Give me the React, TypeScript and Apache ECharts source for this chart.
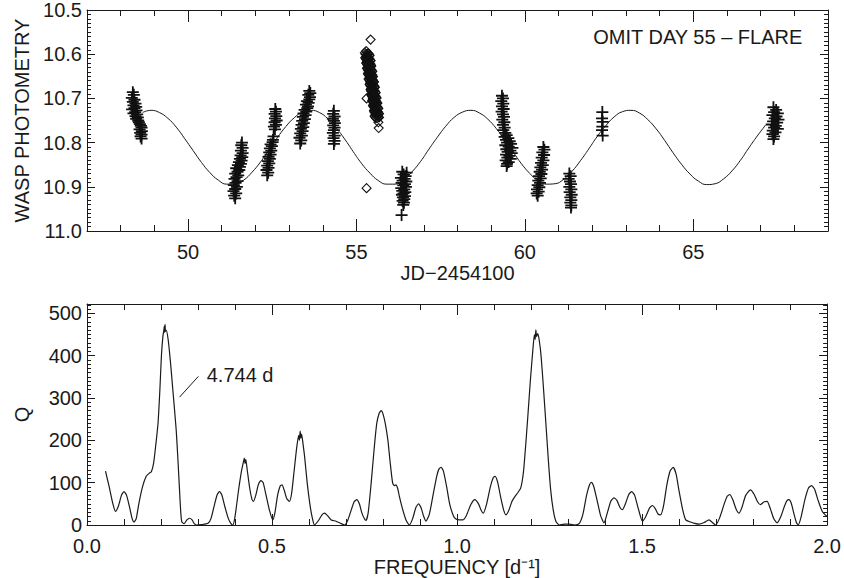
import { useEffect, useRef } from 'react';
import * as echarts from 'echarts';

// ---- Light curve: WASP photometry per night [JD-2454100, mag] ----
const night48: [number, number][] = [
  [48.36, 10.686], [48.39, 10.692], [48.33, 10.699], [48.41, 10.703], [48.36, 10.708], [48.44, 10.712],
  [48.38, 10.716], [48.46, 10.719], [48.41, 10.722], [48.34, 10.725], [48.47, 10.727], [48.43, 10.731],
  [48.38, 10.734], [48.49, 10.736], [48.44, 10.740], [48.51, 10.743], [48.46, 10.746], [48.52, 10.750],
  [48.54, 10.754], [48.57, 10.758], [48.60, 10.762], [48.62, 10.766], [48.56, 10.770], [48.63, 10.774],
  [48.58, 10.778], [48.62, 10.782], [48.59, 10.786], [48.62, 10.791],
];
const night51: [number, number][] = [
  [51.40, 10.926], [51.37, 10.920], [51.43, 10.915], [51.35, 10.910], [51.40, 10.905], [51.45, 10.900],
  [51.36, 10.896], [51.41, 10.891], [51.47, 10.887], [51.38, 10.882], [51.44, 10.878], [51.49, 10.874],
  [51.40, 10.870], [51.47, 10.866], [51.52, 10.862], [51.43, 10.858], [51.54, 10.855], [51.48, 10.851],
  [51.57, 10.848], [51.51, 10.844], [51.59, 10.841], [51.54, 10.837], [51.61, 10.833], [51.56, 10.829],
  [51.62, 10.824], [51.57, 10.818], [51.62, 10.812], [51.58, 10.806], [51.60, 10.800],
];
const night52: [number, number][] = [
  [52.35, 10.874], [52.38, 10.868], [52.33, 10.862], [52.39, 10.857], [52.35, 10.852], [52.41, 10.847],
  [52.37, 10.842], [52.43, 10.837], [52.39, 10.832], [52.45, 10.827], [52.41, 10.822], [52.47, 10.818],
  [52.43, 10.813], [52.49, 10.808], [52.45, 10.804], [52.51, 10.799], [52.52, 10.794], [52.54, 10.786],
  [52.58, 10.770], [52.55, 10.764], [52.61, 10.760], [52.57, 10.754], [52.63, 10.750], [52.58, 10.745],
  [52.62, 10.740], [52.57, 10.735], [52.61, 10.730], [52.59, 10.724],
];
const night53: [number, number][] = [
  [53.33, 10.802], [53.36, 10.795], [53.31, 10.789], [53.38, 10.784], [53.33, 10.779], [53.40, 10.774],
  [53.35, 10.769], [53.42, 10.765], [53.37, 10.760], [53.44, 10.756], [53.39, 10.751], [53.47, 10.747],
  [53.41, 10.742], [53.49, 10.738], [53.43, 10.734], [53.51, 10.730], [53.46, 10.726], [53.54, 10.722],
  [53.56, 10.718], [53.50, 10.714], [53.58, 10.710], [53.53, 10.706], [53.60, 10.702], [53.62, 10.697],
  [53.57, 10.692], [53.63, 10.688], [53.60, 10.683],
];
const night54: [number, number][] = [
  [54.33, 10.728], [54.31, 10.735], [54.35, 10.741], [54.30, 10.746], [54.33, 10.751], [54.36, 10.756],
  [54.31, 10.761], [54.35, 10.766], [54.33, 10.772], [54.30, 10.778], [54.35, 10.784], [54.32, 10.790],
  [54.35, 10.796], [54.33, 10.803],
];
const night56: [number, number][] = [
  [56.36, 10.866], [56.49, 10.868], [56.40, 10.872], [56.46, 10.876], [56.32, 10.880], [56.43, 10.882],
  [56.37, 10.886], [56.48, 10.888], [56.34, 10.891], [56.44, 10.894], [56.39, 10.897], [56.47, 10.900],
  [56.33, 10.903], [56.42, 10.906], [56.36, 10.909], [56.45, 10.912], [56.40, 10.915], [56.35, 10.918],
  [56.44, 10.921], [56.38, 10.924], [56.42, 10.928], [56.37, 10.932], [56.41, 10.936], [56.39, 10.941],
  [56.34, 10.964],
];
const night59: [number, number][] = [
  [59.32, 10.694], [59.35, 10.700], [59.30, 10.706], [59.36, 10.712], [59.32, 10.718], [59.37, 10.724],
  [59.31, 10.730], [59.35, 10.736], [59.38, 10.742], [59.33, 10.748], [59.39, 10.754], [59.35, 10.760],
  [59.40, 10.766], [59.36, 10.772], [59.42, 10.778], [59.46, 10.783], [59.40, 10.787], [59.51, 10.790],
  [59.44, 10.794], [59.55, 10.797], [59.47, 10.800], [59.59, 10.803], [59.42, 10.806], [59.52, 10.809],
  [59.63, 10.812], [59.45, 10.815], [59.57, 10.818], [59.49, 10.821], [59.61, 10.824], [59.44, 10.827],
  [59.54, 10.830], [59.48, 10.834], [59.58, 10.837], [59.43, 10.840], [59.52, 10.844], [59.47, 10.848],
  [59.46, 10.853],
];
const night60: [number, number][] = [
  [60.55, 10.810], [60.58, 10.816], [60.52, 10.822], [60.57, 10.828], [60.50, 10.834], [60.55, 10.840],
  [60.48, 10.846], [60.53, 10.851], [60.46, 10.856], [60.51, 10.861], [60.44, 10.866], [60.49, 10.871],
  [60.42, 10.876], [60.47, 10.881], [60.40, 10.886], [60.45, 10.891], [60.38, 10.896], [60.43, 10.901],
  [60.36, 10.906], [60.41, 10.911], [60.35, 10.915], [60.38, 10.920],
];
const night61: [number, number][] = [
  [61.32, 10.870], [61.36, 10.876], [61.30, 10.882], [61.34, 10.888], [61.37, 10.894], [61.32, 10.900],
  [61.38, 10.906], [61.33, 10.912], [61.39, 10.918], [61.35, 10.924], [61.38, 10.930], [61.35, 10.936],
  [61.38, 10.942], [61.37, 10.947],
];
const night62: [number, number][] = [
  [62.30, 10.731], [62.29, 10.745], [62.31, 10.753], [62.30, 10.764], [62.29, 10.772], [62.31, 10.784],
];
const night67: [number, number][] = [
  [67.38, 10.720], [67.46, 10.726], [67.40, 10.731], [67.51, 10.734], [67.35, 10.738], [67.47, 10.741],
  [67.42, 10.745], [67.53, 10.748], [67.37, 10.752], [67.49, 10.755], [67.33, 10.759], [67.45, 10.762],
  [67.40, 10.766], [67.51, 10.769], [67.36, 10.773], [67.44, 10.777], [67.35, 10.781], [67.40, 10.786],
  [67.38, 10.792],
];
// Night 55 (flare, omitted from the fit) drawn as open diamonds
const night55Flare: [number, number][] = [
  [55.42, 10.567], [55.29, 10.593],
  [55.25, 10.597], [55.36, 10.599], [55.31, 10.601], [55.39, 10.603], [55.29, 10.605], [55.35, 10.607],
  [55.28, 10.609], [55.39, 10.611], [55.33, 10.613], [55.42, 10.615], [55.31, 10.617], [55.38, 10.619],
  [55.30, 10.621], [55.42, 10.623], [55.36, 10.625], [55.44, 10.627], [55.34, 10.629], [55.40, 10.631],
  [55.33, 10.633], [55.44, 10.635], [55.38, 10.637], [55.47, 10.639], [55.36, 10.641], [55.43, 10.643],
  [55.35, 10.645], [55.47, 10.647], [55.41, 10.649], [55.49, 10.651], [55.39, 10.653], [55.45, 10.655],
  [55.38, 10.657], [55.49, 10.659], [55.44, 10.661], [55.52, 10.663], [55.41, 10.665], [55.48, 10.667],
  [55.40, 10.669], [55.52, 10.671], [55.46, 10.673], [55.55, 10.675], [55.44, 10.677], [55.50, 10.679],
  [55.43, 10.681], [55.54, 10.683], [55.49, 10.685], [55.57, 10.687], [55.46, 10.689], [55.53, 10.691],
  [55.45, 10.693], [55.57, 10.695], [55.51, 10.697], [55.60, 10.699], [55.49, 10.701], [55.55, 10.703],
  [55.48, 10.705], [55.59, 10.707], [55.54, 10.709], [55.62, 10.711], [55.51, 10.713], [55.58, 10.715],
  [55.50, 10.717], [55.62, 10.719], [55.56, 10.721], [55.65, 10.723], [55.54, 10.725], [55.60, 10.727],
  [55.53, 10.729], [55.64, 10.731], [55.59, 10.733], [55.67, 10.735], [55.57, 10.737], [55.63, 10.739],
  [55.55, 10.741], [55.67, 10.743], [55.61, 10.745],
  [55.34, 10.598], [55.27, 10.600], [55.38, 10.602], [55.31, 10.604], [55.34, 10.606], [55.26, 10.608],
  [55.37, 10.610], [55.29, 10.612], [55.41, 10.614], [55.33, 10.616], [55.36, 10.618], [55.29, 10.620],
  [55.39, 10.622], [55.32, 10.624], [55.43, 10.626], [55.36, 10.628], [55.39, 10.630], [55.31, 10.632],
  [55.42, 10.634], [55.34, 10.636], [55.46, 10.638], [55.38, 10.640], [55.42, 10.642], [55.34, 10.644],
  [55.44, 10.646], [55.37, 10.648], [55.48, 10.650], [55.41, 10.652], [55.44, 10.654], [55.36, 10.656],
  [55.47, 10.658], [55.39, 10.660], [55.51, 10.662], [55.43, 10.664], [55.47, 10.666], [55.39, 10.668],
  [55.49, 10.670], [55.42, 10.672], [55.53, 10.674], [55.46, 10.676], [55.49, 10.678], [55.42, 10.680],
  [55.52, 10.682], [55.44, 10.684], [55.56, 10.686], [55.48, 10.688], [55.52, 10.690], [55.44, 10.692],
  [55.54, 10.694], [55.47, 10.696], [55.58, 10.698], [55.51, 10.700], [55.54, 10.702], [55.47, 10.704],
  [55.57, 10.706], [55.49, 10.708], [55.61, 10.710], [55.53, 10.712], [55.57, 10.714], [55.49, 10.716],
  [55.59, 10.718], [55.52, 10.720], [55.63, 10.722], [55.56, 10.724], [55.59, 10.726], [55.52, 10.728],
  [55.62, 10.730], [55.54, 10.732], [55.66, 10.734], [55.58, 10.736], [55.62, 10.738], [55.54, 10.740],
  [55.65, 10.742], [55.57, 10.744],
  [55.30, 10.700], [55.65, 10.754], [55.66, 10.767], [55.30, 10.903],
];

// Fitted P = 4.744 d model curve
const modelJd = [
  48.65, 48.90, 49.15, 49.40, 49.65, 49.90, 50.15, 50.40, 50.65, 50.90, 51.15, 51.40, 51.65, 51.90, 52.15,
  52.40, 52.65, 52.90, 53.15, 53.40, 53.65, 53.90, 54.15, 54.40, 54.65, 54.90, 55.15, 55.40, 55.65, 55.90,
  56.15, 56.40, 56.65, 56.90, 57.15, 57.40, 57.65, 57.90, 58.15, 58.40, 58.65, 58.90, 59.15, 59.40, 59.65,
  59.90, 60.15, 60.40, 60.65, 60.90, 61.15, 61.40, 61.65, 61.90, 62.15, 62.40, 62.65, 62.90, 63.15, 63.40,
  63.65, 63.90, 64.15, 64.40, 64.65, 64.90, 65.15, 65.40, 65.65, 65.90, 66.15, 66.40, 66.65, 66.90, 67.15,
];
const modelMag = [
  10.732, 10.727, 10.732, 10.745, 10.765, 10.791, 10.818, 10.845, 10.868, 10.885, 10.894, 10.894, 10.885, 10.867, 10.844,
  10.817, 10.789, 10.764, 10.744, 10.731, 10.727, 10.732, 10.746, 10.767, 10.792, 10.820, 10.847, 10.869, 10.886, 10.894,
  10.894, 10.884, 10.866, 10.843, 10.815, 10.788, 10.763, 10.743, 10.731, 10.727, 10.733, 10.747, 10.768, 10.794, 10.821,
  10.848, 10.870, 10.887, 10.894, 10.893, 10.883, 10.865, 10.841, 10.814, 10.786, 10.762, 10.742, 10.730, 10.727, 10.733,
  10.748, 10.769, 10.795, 10.823, 10.849, 10.871, 10.887, 10.895, 10.893, 10.882, 10.864, 10.840, 10.812, 10.785, 10.760,
];

// ---- Periodogram [frequency d^-1, Q] ----
const periodogram: [number, number][] = [
  [0.050, 127], [0.060, 90], [0.070, 50], [0.077, 32], [0.085, 45], [0.093, 70], [0.100, 79], [0.107, 70],
  [0.115, 42], [0.122, 15], [0.127, 7], [0.133, 15], [0.140, 50], [0.150, 90], [0.160, 115], [0.168, 122],
  [0.174, 126], [0.180, 146], [0.186, 190], [0.192, 241], [0.197, 320], [0.201, 398], [0.205, 445],
  [0.208, 462], [0.209, 470], [0.210, 455], [0.211, 474], [0.212, 458], [0.214, 460], [0.219, 440],
  [0.225, 390], [0.232, 319], [0.241, 225], [0.246, 150], [0.250, 83], [0.253, 35], [0.256, 8], [0.262, 3],
  [0.270, 12], [0.277, 16], [0.284, 12], [0.290, 3], [0.295, 0], [0.310, 1], [0.327, 4], [0.335, 15],
  [0.345, 50], [0.352, 72], [0.358, 79], [0.364, 72], [0.372, 45], [0.382, 15], [0.390, 2], [0.394, 0],
  [0.400, 20], [0.410, 85], [0.418, 130], [0.423, 150], [0.425, 158], [0.427, 145], [0.429, 155],
  [0.433, 130], [0.440, 85], [0.446, 60], [0.450, 56], [0.456, 70], [0.463, 95], [0.470, 105], [0.476, 100],
  [0.484, 70], [0.493, 35], [0.502, 12], [0.508, 30], [0.515, 70], [0.522, 92], [0.527, 95], [0.533, 82],
  [0.540, 62], [0.547, 56], [0.553, 75], [0.560, 130], [0.567, 185], [0.572, 212], [0.574, 200],
  [0.576, 222], [0.578, 205], [0.580, 215], [0.584, 190], [0.588, 162], [0.595, 100], [0.603, 45],
  [0.610, 12], [0.615, 0], [0.625, 10], [0.635, 24], [0.642, 28], [0.650, 22], [0.660, 12], [0.673, 9],
  [0.685, 4], [0.696, 0], [0.705, 12], [0.715, 38], [0.722, 55], [0.729, 60], [0.736, 50], [0.743, 28],
  [0.750, 14], [0.754, 11], [0.760, 30], [0.768, 100], [0.776, 180], [0.783, 240], [0.790, 265],
  [0.795, 270], [0.800, 262], [0.806, 240], [0.813, 201], [0.819, 150], [0.826, 99], [0.831, 93],
  [0.835, 95], [0.840, 85], [0.844, 68], [0.852, 40], [0.862, 12], [0.871, 0], [0.880, 15], [0.889, 42],
  [0.896, 50], [0.903, 40], [0.910, 20], [0.916, 9], [0.925, 25], [0.935, 70], [0.945, 115], [0.951, 132],
  [0.957, 136], [0.963, 128], [0.972, 90], [0.980, 50], [0.990, 22], [0.997, 14], [1.006, 12], [1.015, 12],
  [1.025, 22], [1.037, 48], [1.048, 60], [1.058, 50], [1.065, 35], [1.071, 28], [1.080, 50], [1.090, 90],
  [1.098, 112], [1.103, 115], [1.110, 100], [1.118, 65], [1.126, 35], [1.132, 24], [1.140, 35], [1.148, 55],
  [1.154, 64], [1.163, 75], [1.172, 87], [1.180, 130], [1.190, 241], [1.198, 340], [1.205, 415],
  [1.209, 450], [1.211, 438], [1.213, 461], [1.215, 445], [1.218, 452], [1.222, 437], [1.227, 400],
  [1.233, 330], [1.240, 241], [1.247, 150], [1.253, 83], [1.260, 35], [1.267, 9], [1.276, 0], [1.290, 2],
  [1.303, 2], [1.318, 0], [1.330, 3], [1.340, 25], [1.350, 70], [1.358, 95], [1.363, 101], [1.369, 92],
  [1.378, 60], [1.388, 22], [1.397, 5], [1.405, 25], [1.415, 55], [1.424, 64], [1.432, 58], [1.440, 42],
  [1.447, 36], [1.455, 50], [1.464, 72], [1.472, 79], [1.480, 70], [1.490, 38], [1.501, 9], [1.510, 20],
  [1.520, 40], [1.528, 46], [1.536, 38], [1.543, 26], [1.550, 24], [1.558, 45], [1.567, 95], [1.576, 128],
  [1.584, 136], [1.592, 120], [1.600, 80], [1.610, 35], [1.618, 12], [1.631, 7], [1.642, 4], [1.654, 2],
  [1.668, 6], [1.681, 12], [1.690, 6], [1.699, 0], [1.710, 18], [1.722, 50], [1.730, 68], [1.737, 72],
  [1.745, 60], [1.754, 38], [1.762, 28], [1.770, 42], [1.780, 70], [1.793, 83], [1.803, 72], [1.812, 55],
  [1.820, 48], [1.830, 55], [1.838, 56], [1.846, 40], [1.856, 15], [1.865, 5], [1.875, 20], [1.885, 45],
  [1.892, 58], [1.897, 60], [1.903, 52], [1.910, 28], [1.917, 6], [1.922, 0], [1.930, 20], [1.940, 60],
  [1.950, 88], [1.958, 93], [1.966, 85], [1.975, 60], [1.987, 32], [2.000, 20],
];

// Leader line and label for the best period
const periodLeader: [number, number][] = [[0.250, 302], [0.301, 351]];
const periodLabelAt: [number, number] = [0.310, 355];
const periodLabel = '4.744 d';

const FONT = '"Liberation Sans", Arial, Helvetica, sans-serif';
const INK = '#1a1a1a';
const FS = 20;
const PLUS = 'path://M4.25,0H5.75V4.25H10V5.75H5.75V10H4.25V5.75H0V4.25H4.25Z';

function boxAxis(grid: number, pos: string, extra: any, majorLen: number, minorSplit: number, minorLen: number, labels: boolean) {
  return {
    type: 'value',
    gridIndex: grid,
    position: pos,
    scale: true,
    axisLine: { show: true, onZero: false, lineStyle: { color: INK, width: 1 } },
    axisTick: { show: true, inside: true, length: majorLen, lineStyle: { color: INK, width: 1 } },
    minorTick: { show: true, splitNumber: minorSplit, length: minorLen, lineStyle: { color: INK, width: 1 } },
    splitLine: { show: false },
    minorSplitLine: { show: false },
    axisLabel: labels
      ? { show: true, color: INK, fontFamily: FONT, fontSize: FS, margin: 6 }
      : { show: false },
    ...extra,
  };
}

export default function App() {
  const ref = useRef<HTMLDivElement>(null);

  useEffect(() => {
    if (!ref.current) return;
    const chart = echarts.init(ref.current, null, { renderer: 'svg' });

    const plusData = [
      ...night48, ...night51, ...night52, ...night53, ...night54, ...night56,
      ...night59, ...night60, ...night61, ...night62, ...night67,
    ];
    const model = modelJd.map((x, i) => [x, modelMag[i]]);

    const nameStyle = { color: INK, fontFamily: FONT, fontSize: FS };

    const jdRange = { min: 47, max: 69 };
    const magRange = { min: 10.5, max: 11.0, interval: 0.1, inverse: true };
    const fRange = { min: 0, max: 2, interval: 0.5 };
    const qRange = { min: 0, max: 522, interval: 100 };

    chart.setOption({
      animation: false,
      backgroundColor: '#ffffff',
      grid: [
        { left: 87, right: 16, top: 8, height: 223 },
        { left: 87, right: 16, top: 304, height: 221 },
      ],
      xAxis: [
        boxAxis(0, 'bottom', {
          ...jdRange,
          name: 'JD\u22122454100', nameLocation: 'middle', nameGap: 31, nameTextStyle: nameStyle,
          axisLabel: { show: true, color: INK, fontFamily: FONT, fontSize: FS, margin: 11, showMinLabel: false, showMaxLabel: false },
        }, 12, 5, 6, true),
        boxAxis(0, 'top', { ...jdRange }, 12, 5, 6, false),
        boxAxis(1, 'bottom', {
          ...fRange,
          name: 'FREQUENCY [d\u207B\u00B9]', nameLocation: 'middle', nameGap: 30, nameTextStyle: nameStyle,
          axisLabel: { show: true, color: INK, fontFamily: FONT, fontSize: FS, margin: 11, formatter: (v: number) => v.toFixed(1) },
        }, 11, 5, 6, true),
        boxAxis(1, 'top', { ...fRange }, 11, 5, 6, false),
      ],
      yAxis: [
        boxAxis(0, 'left', {
          ...magRange,
          name: 'WASP PHOTOMETRY', nameLocation: 'middle', nameRotate: 90, nameGap: 55, nameTextStyle: nameStyle,
          axisLabel: { show: true, color: INK, fontFamily: FONT, fontSize: FS, margin: 5, formatter: (v: number) => v.toFixed(1) },
        }, 8, 10, 4, true),
        boxAxis(0, 'right', { ...magRange }, 8, 10, 4, false),
        boxAxis(1, 'left', {
          ...qRange,
          name: 'Q', nameLocation: 'middle', nameRotate: 90, nameGap: 55, nameTextStyle: nameStyle,
          axisLabel: { show: true, color: INK, fontFamily: FONT, fontSize: FS, margin: 5, showMaxLabel: false },
        }, 8, 10, 4, true),
        boxAxis(1, 'right', { ...qRange }, 8, 10, 4, false),
      ],
      graphic: [
        {
          type: 'text',
          right: 41,
          top: 27,
          style: { text: 'OMIT DAY 55 \u2013 FLARE', fill: INK, font: `${FS}px ${FONT}` },
        },
      ],
      series: [
        {
          type: 'line',
          xAxisIndex: 0,
          yAxisIndex: 0,
          data: model,
          showSymbol: false,
          smooth: true,
          lineStyle: { color: INK, width: 1 },
          silent: true,
          z: 2,
        },
        {
          type: 'scatter',
          xAxisIndex: 0,
          yAxisIndex: 0,
          data: plusData,
          symbol: PLUS,
          symbolSize: 12,
          itemStyle: { color: '#111', opacity: 1 },
          silent: true,
          z: 3,
        },
        {
          type: 'scatter',
          xAxisIndex: 0,
          yAxisIndex: 0,
          data: night55Flare,
          symbol: 'diamond',
          symbolSize: 9,
          itemStyle: { color: 'rgba(255,255,255,0)', borderColor: '#111', borderWidth: 1.1, opacity: 1 },
          silent: true,
          z: 3,
        },
        {
          type: 'line',
          xAxisIndex: 2,
          yAxisIndex: 2,
          data: periodogram,
          showSymbol: false,
          smooth: 0.2,
          lineStyle: { color: INK, width: 1.2 },
          silent: true,
          markLine: {
            silent: true,
            symbol: ['none', 'none'],
            label: { show: false },
            lineStyle: { color: INK, width: 1, type: 'solid' },
            data: [[{ coord: periodLeader[0] }, { coord: periodLeader[1] }]],
          },
          markPoint: {
            silent: true,
            symbol: 'circle',
            symbolSize: 0,
            label: {
              show: true,
              position: 'right',
              distance: 5,
              color: INK,
              fontFamily: FONT,
              fontSize: FS,
              formatter: periodLabel,
            },
            data: [{ coord: periodLabelAt }],
          },
        },
      ],
    });

    return () => chart.dispose();
  }, []);

  return (
    <div
      ref={ref}
      style={{ position: 'fixed', left: 0, top: 0, width: 844, height: 578, background: '#fff' }}
    />
  );
}
